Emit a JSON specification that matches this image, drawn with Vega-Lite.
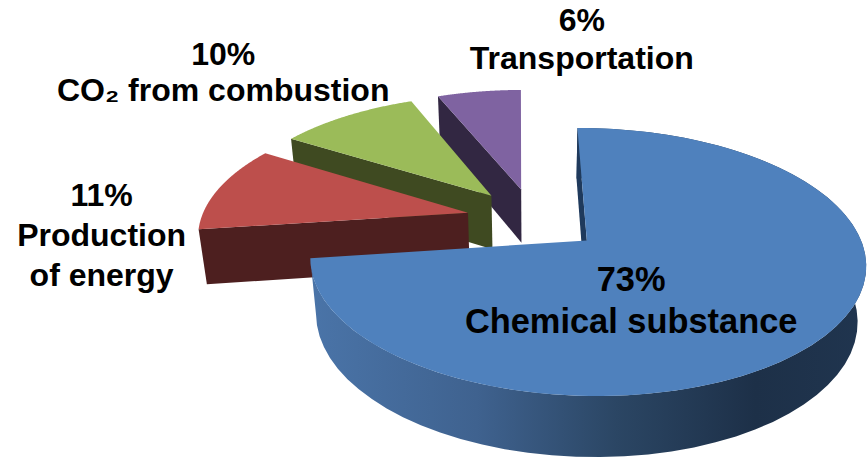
{
  "$schema": "https://vega.github.io/schema/vega-lite/v6.json",
  "width": 868,
  "height": 458,
  "padding": 0,
  "autosize": {"type": "fit", "contains": "padding"},
  "background": "white",
  "config": {"view": {"stroke": null}},
  "data": {"values": [
    {"slice": "Chemical substance", "share": 73, "name": "Chemical substance"},
    {"slice": "Production of energy", "share": 11, "name": "Production\nof energy"},
    {"slice": "CO2 from combustion", "share": 10, "name": "CO₂ from combustion"},
    {"slice": "Transportation", "share": 6, "name": "Transportation"}
  ]},
  "transform": [
    {"window": [{"op": "sum", "field": "share", "as": "cum"}], "frame": [null, 0]},
    {"calculate": "(datum.cum-datum.share)*3.6-0.5", "as": "startDeg"},
    {"calculate": "datum.cum*3.6-0.5", "as": "endDeg"},
    {"calculate": "0.255*sin((datum.startDeg+datum.endDeg)/2*PI/180)", "as": "ox"},
    {"calculate": "-0.255*cos((datum.startDeg+datum.endDeg)/2*PI/180)", "as": "oy"},
    {"calculate": "['rim','cut','top','label']", "as": "face"},
    {"flatten": ["face"]},
    {"calculate": "sequence(0,122)", "as": "i"},
    {"flatten": ["i"]},
    {"filter": "datum.face==='rim'||datum.face==='top'||(datum.face==='cut'&&datum.i<4)||(datum.face==='label'&&datum.i===0)"},
    {"calculate": "datum.face==='rim'?(datum.i<=60?datum.i/60:(121-datum.i)/60):(datum.face==='top'?(datum.i-1)/120:0)", "as": "t"},
    {"calculate": "datum.face==='label'?{'Chemical substance':154,'Production of energy':275.5,'CO2 from combustion':318.6,'Transportation':8.67}[datum.slice]:datum.startDeg+datum.t*(datum.endDeg-datum.startDeg)", "as": "deg"},
    {"calculate": "datum.face==='label'?{'Chemical substance':0.33,'Production of energy':1.425,'CO2 from combustion':1.975,'Transportation':1.918}[datum.slice]:datum.face==='rim'?1:datum.face==='top'?(datum.i===0?0:1):(datum.i===1||datum.i===2?1:0)", "as": "r"},
    {"calculate": "datum.face==='rim'?(datum.i<=60?0:1):datum.face==='cut'?(datum.i>=2?1:0):0", "as": "z"},
    {"calculate": "datum.ox+datum.r*sin(datum.deg*PI/180)", "as": "X"},
    {"calculate": "datum.oy-datum.r*cos(datum.deg*PI/180)", "as": "Y"},
    {"calculate": "1-0.157*datum.Y+0.025*datum.z", "as": "w"},
    {"calculate": "534+267*datum.X/datum.w", "as": "px"},
    {"calculate": "219.7+(124*datum.Y+56*datum.z)/datum.w", "as": "py"},
    {"calculate": "split(datum.share+'%\\n'+datum.name,'\\n')", "as": "caption"}
  ],
  "encoding": {
    "x": {"field": "px", "type": "quantitative", "scale": {"domain": [0, 868]}, "axis": null},
    "y": {"field": "py", "type": "quantitative", "scale": {"domain": [458, 0]}, "axis": null},
    "order": {"field": "i", "type": "quantitative"}
  },
  "layer": [
    {"transform": [{"filter": "datum.slice==='Transportation'&&datum.face==='cut'"}], "mark": {"type": "line", "fill": "#322742", "strokeWidth": 0}},
    {"transform": [{"filter": "datum.slice==='Transportation'&&datum.face==='top'"}], "mark": {"type": "line", "fill": "#7f63a1", "strokeWidth": 0}},
    {"transform": [{"filter": "datum.slice==='CO2 from combustion'&&datum.face==='cut'"}], "mark": {"type": "line", "fill": "#3f4a21", "strokeWidth": 0}},
    {"transform": [{"filter": "datum.slice==='CO2 from combustion'&&datum.face==='top'"}], "mark": {"type": "line", "fill": "#9bbb59", "strokeWidth": 0}},
    {"transform": [{"filter": "datum.slice==='Production of energy'&&datum.face==='cut'"}], "mark": {"type": "line", "fill": "#4d1f1f", "strokeWidth": 0}},
    {"transform": [{"filter": "datum.slice==='Production of energy'&&datum.face==='top'"}], "mark": {"type": "line", "fill": "#bd4f4c", "strokeWidth": 0}},
    {"transform": [{"filter": "datum.slice==='Chemical substance'&&datum.face==='rim'"}], "mark": {"type": "line", "strokeWidth": 0, "fill": {"gradient": "linear", "x1": 0, "y1": 0, "x2": 1, "y2": 0, "stops": [{"offset": 0, "color": "#4a74a8"}, {"offset": 0.3, "color": "#3f628f"}, {"offset": 0.55, "color": "#2b4664"}, {"offset": 0.8, "color": "#1d3048"}, {"offset": 1, "color": "#20354f"}]}}},
    {"transform": [{"filter": "datum.slice==='Chemical substance'&&datum.face==='cut'"}], "mark": {"type": "line", "fill": "#1f3a5c", "strokeWidth": 0}},
    {"transform": [{"filter": "datum.slice==='Chemical substance'&&datum.face==='top'"}], "mark": {"type": "line", "fill": "#4f81bd", "strokeWidth": 0}},
    {"transform": [{"filter": "datum.face==='label'&&datum.slice==='Transportation'"}], "mark": {"type": "text", "font": "Liberation Sans", "fontWeight": "bold", "fontSize": 32, "lineHeight": 38, "align": "center", "baseline": "middle", "color": "black"}, "encoding": {"text": {"field": "caption", "type": "nominal"}}},
    {"transform": [{"filter": "datum.face==='label'&&datum.slice==='CO2 from combustion'"}], "mark": {"type": "text", "font": "Liberation Sans", "fontWeight": "bold", "fontSize": 32, "lineHeight": 36, "align": "center", "baseline": "middle", "color": "black"}, "encoding": {"text": {"field": "caption", "type": "nominal"}}},
    {"transform": [{"filter": "datum.face==='label'&&datum.slice==='Production of energy'"}], "mark": {"type": "text", "font": "Liberation Sans", "fontWeight": "bold", "fontSize": 32, "lineHeight": 40, "align": "center", "baseline": "middle", "color": "black"}, "encoding": {"text": {"field": "caption", "type": "nominal"}}},
    {"transform": [{"filter": "datum.face==='label'&&datum.slice==='Chemical substance'"}], "mark": {"type": "text", "font": "Liberation Sans", "fontWeight": "bold", "fontSize": 34.4, "lineHeight": 42, "align": "center", "baseline": "middle", "color": "black"}, "encoding": {"text": {"field": "caption", "type": "nominal"}}}
  ]
}
